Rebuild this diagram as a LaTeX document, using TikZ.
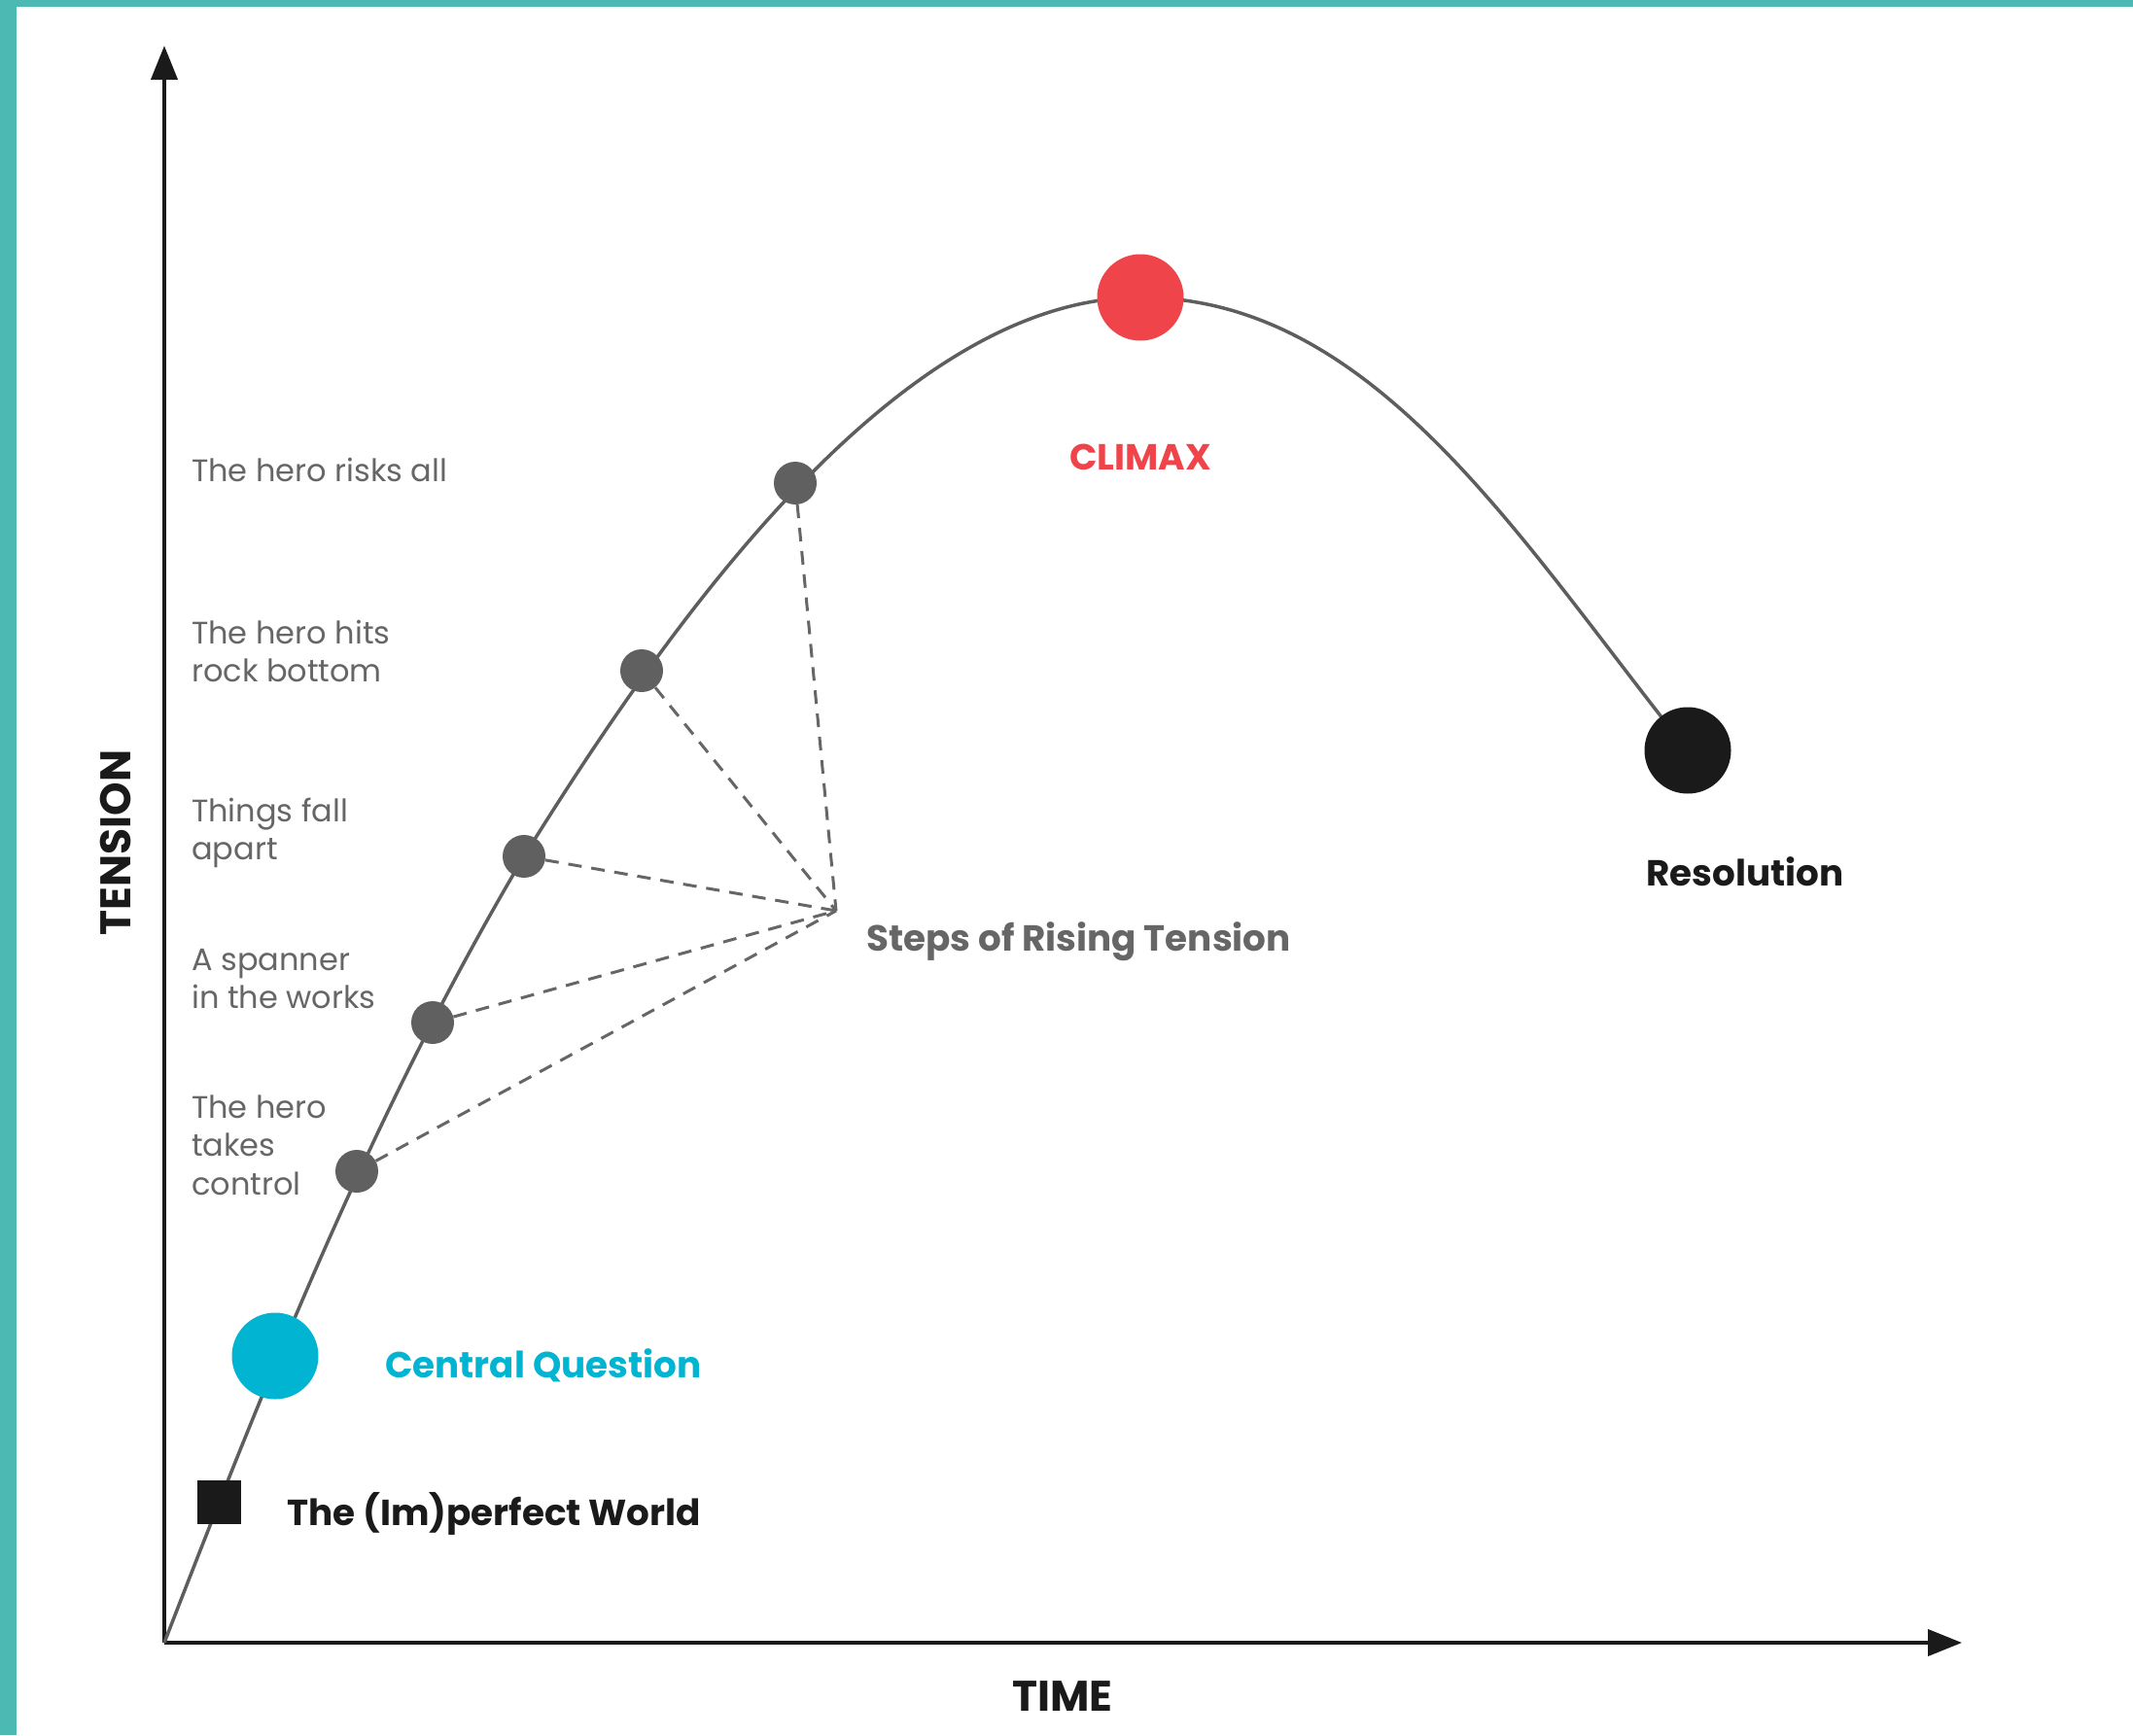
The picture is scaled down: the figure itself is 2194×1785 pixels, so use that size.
\documentclass[tikz,border=0pt]{standalone}
\usepackage{fontspec}
\setmainfont{Poppins}
\usetikzlibrary{arrows.meta}
\definecolor{teal1}{HTML}{4DB9B3}
\definecolor{curvegray}{HTML}{5E5E5E}
\definecolor{labgray}{HTML}{666666}
\definecolor{dotgray}{HTML}{606060}
\definecolor{climred}{HTML}{EF4449}
\definecolor{cqblue}{HTML}{00B4D2}
\definecolor{nearblack}{HTML}{1A1A1A}
\begin{document}
\begin{tikzpicture}[x=1pt,y=-1pt,
  axis/.style={line width=4pt, draw=nearblack, -{Triangle[length=35pt,width=27pt]}},
  curve/.style={line width=3.5pt, draw=curvegray},
  stepdot/.style={circle, fill=dotgray, minimum size=44pt, inner sep=0pt},
  bigdot/.style={circle, minimum size=89pt, inner sep=0pt},
  steplabel/.style={anchor=west, inner sep=0pt, align=left, text=labgray, font=\fontsize{32}{39.5}\selectfont},
  keylabel/.style={anchor=west, inner sep=0pt, font=\bfseries\fontsize{37.3}{46}\selectfont},
  axislabel/.style={inner sep=0pt, text=nearblack, font=\bfseries\fontsize{44}{52}\selectfont},
  dashline/.style={line width=3pt, draw=labgray, dash pattern=on 14pt off 10pt},
]
\useasboundingbox (0,0) rectangle (2194,1785);
\fill[white] (0,0) rectangle (2194,1785);
\fill[teal1] (0,0) rectangle (2194,7);
\fill[teal1] (0,0) rectangle (17,1785);

% positions
\coordinate (o) at (169,1690);
\coordinate (ytip) at (169,47);
\coordinate (xtip) at (2018,1690);
\coordinate (psq) at (225,1545);
\coordinate (pcq) at (283,1395);
\coordinate (p1) at (367,1205);
\coordinate (p2) at (445,1052);
\coordinate (p3) at (539,881);
\coordinate (p4) at (660,690);
\coordinate (p5) at (818,497);
\coordinate (pcl) at (1173,306);
\coordinate (pres) at (1736,772);
\coordinate (conv) at (860,937);

% axes
\draw[axis] (o) -- (ytip);
\draw[axis] (o) -- (xtip);

% curve
\draw[curve] (o) .. controls (277,1411) and (386,1139) .. (p3)
  .. controls (687,643) and (923,306) .. (pcl)
  .. controls (1413,306) and (1562,554) .. (pres);

% markers
\node[fill=nearblack, minimum size=45pt, inner sep=0pt] (sq) at (psq) {};
\node[bigdot, fill=cqblue] (cq) at (pcq) {};
\node[stepdot] (d1) at (p1) {};
\node[stepdot] (d2) at (p2) {};
\node[stepdot] (d3) at (p3) {};
\node[stepdot] (d4) at (p4) {};
\node[stepdot] (d5) at (p5) {};
\node[bigdot, fill=climred] (cl) at (pcl) {};
\node[bigdot, fill=nearblack] (res) at (pres) {};

% dashed connectors
\draw[dashline] (d1) -- (conv);
\draw[dashline] (d2) -- (conv);
\draw[dashline] (d3) -- (conv);
\draw[dashline] (d4) -- (conv);
\draw[dashline] (d5) -- (conv);

% step labels
\node[steplabel] (l5) at (197,483) {The hero risks all};
\node[steplabel] (l4) at (197,670) {The hero hits\\rock bottom};
\node[steplabel] (l3) at (197,857) {Things fall\\apart};
\node[steplabel] (l2) at (197,1007) {A spanner\\in the works};
\node[steplabel] (l1) at (197,1178) {The hero\\takes\\control};

% key labels
\node[keylabel, text=labgray] (steps) at (891,969) {Steps of Rising Tension};
\node[keylabel, text=climred, anchor=center] (climax) at (1173,470) {CLIMAX};
\node[keylabel, text=nearblack] (resl) at (1693,897) {Resolution};
\node[keylabel, text=cqblue] (cql) at (396,1405) {Central Question};
\node[keylabel, text=nearblack] (sql) at (295,1557) {The (Im)perfect World};

% axis labels
\node[axislabel, rotate=90] (tension) at (119,867) {TENSION};
\node[axislabel] (time) at (1093,1745) {TIME};
\end{tikzpicture}
\end{document}
